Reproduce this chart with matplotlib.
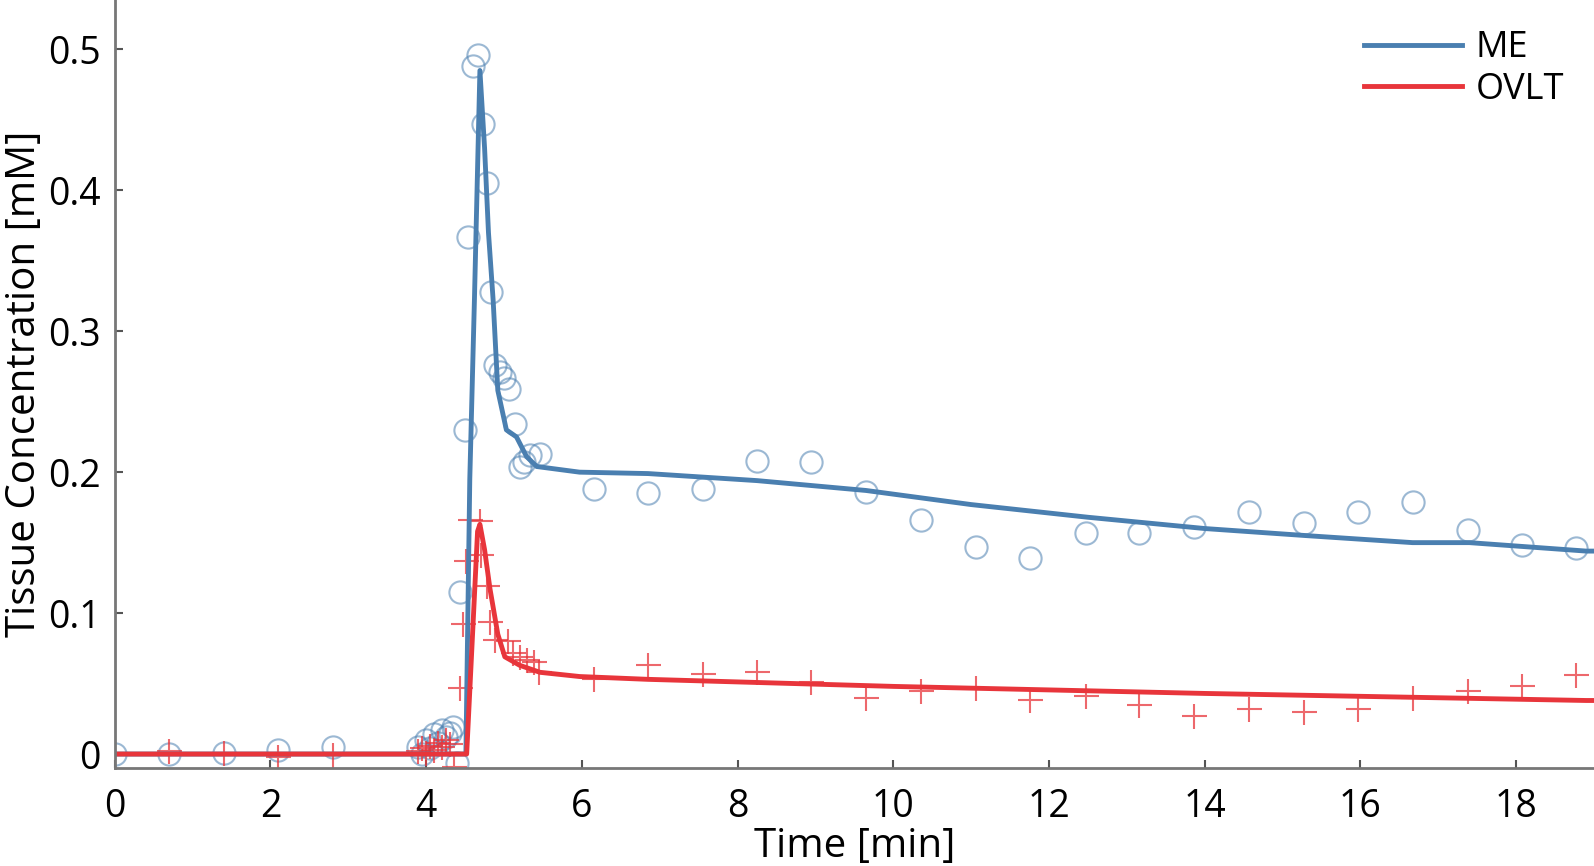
import matplotlib
matplotlib.use("Agg")
import matplotlib.pyplot as plt
import numpy as np

plt.rcParams['font.family'] = ['Open Sans', 'DejaVu Sans']

# ME measured data (circles)
me_t = [0, 0.7, 1.4, 2.1, 2.8, 3.9, 3.95, 4.0, 4.05, 4.1, 4.15, 4.2, 4.25, 4.3, 4.35, 4.4,
        4.44, 4.5, 4.54, 4.6, 4.66, 4.73, 4.78, 4.83, 4.88, 4.95, 5.0, 5.07, 5.14, 5.2,
        5.26, 5.33, 5.46, 6.15, 6.85, 7.55, 8.25, 8.94, 9.65, 10.35, 11.06, 11.76, 12.47,
        13.16, 13.86, 14.57, 15.27, 15.97, 16.67, 17.38, 18.07, 18.77]
me_c = [0, 0, 0.001, 0.003, 0.005, 0.005, 0.0, 0.01, 0.004, 0.014, 0.008, 0.017, 0.012, 0.015, 0.019, -0.006,
        0.115, 0.23, 0.367, 0.488, 0.496, 0.447, 0.405, 0.328, 0.276, 0.271, 0.267, 0.259, 0.234, 0.204,
        0.207, 0.212, 0.213, 0.188, 0.185, 0.188, 0.208, 0.207, 0.186, 0.166, 0.147, 0.139, 0.157,
        0.157, 0.161, 0.172, 0.164, 0.172, 0.179, 0.159, 0.148, 0.146]

# OVLT measured data (crosses)
ov_t = [0, 0.7, 1.4, 2.1, 2.8, 3.9, 3.95, 4.0, 4.05, 4.1, 4.15, 4.2, 4.25, 4.3, 4.36,
        4.43, 4.47, 4.51, 4.56, 4.69, 4.71, 4.78, 4.82, 4.88, 5.05, 5.12, 5.2, 5.29, 5.38, 5.45,
        6.15, 6.85, 7.55, 8.25, 8.94, 9.65, 10.35, 11.06, 11.76, 12.47, 13.16, 13.86, 14.57,
        15.27, 15.97, 16.67, 17.38, 18.07, 18.77]
ov_c = [0, 0.002, 0.001, -0.002, -0.001, 0.002, 0.004, 0.001, 0.006, 0.003, 0.008, 0.005, 0.01, 0.007, -0.009,
        0.047, 0.092, 0.137, 0.166, 0.165, 0.141, 0.119, 0.094, 0.081, 0.080, 0.072, 0.069, 0.067, 0.065, 0.058,
        0.053, 0.063, 0.057, 0.058, 0.051, 0.040, 0.045, 0.047, 0.038, 0.041, 0.035, 0.027, 0.032,
        0.030, 0.032, 0.040, 0.045, 0.048, 0.056]

# Fitted model curves
me_fit_t = [0, 4.51, 4.56, 4.62, 4.69, 4.75, 4.80, 4.86, 4.92, 5.03, 5.16, 5.29, 5.42, 5.97,
            6.85, 8.25, 9.65, 11.0, 12.5, 14.0, 15.3, 16.67, 17.4, 18.9, 19.0]
me_fit_c = [0, 0, 0.195, 0.323, 0.485, 0.43, 0.37, 0.322, 0.258, 0.230, 0.225, 0.211, 0.204, 0.200,
            0.199, 0.194, 0.187, 0.177, 0.168, 0.160, 0.155, 0.150, 0.150, 0.144, 0.144]
ov_fit_t = [0, 4.52, 4.60, 4.66, 4.69, 4.75, 4.82, 4.92, 5.01, 5.2, 5.46, 5.97,
            6.85, 10.0, 14.0, 18.9, 19.0]
ov_fit_c = [0, 0, 0.09, 0.158, 0.163, 0.145, 0.117, 0.085, 0.069, 0.063, 0.058, 0.055,
            0.053, 0.048, 0.043, 0.038, 0.038]

xticks = [0, 2, 4, 6, 8, 10, 12, 14, 16, 18]
yticks = [0, 0.1, 0.2, 0.3, 0.4, 0.5]
ytick_labels = ["0", "0.1", "0.2", "0.3", "0.4", "0.5"]

blue = "#4a7fb0"
red = "#e8353b"

fig = plt.figure(figsize=(15.94, 8.66), dpi=100)
ax = fig.add_axes([0.072, 0.113, 0.928, 0.887])

ax.plot(me_t, me_c, linestyle="none", marker="o", markersize=16, markerfacecolor="none",
        markeredgecolor=blue, markeredgewidth=1.5, alpha=0.55)
ax.plot(ov_t, ov_c, linestyle="none", marker="+", markersize=18, color=red,
        markeredgewidth=1.5, alpha=0.75)
ax.plot(me_fit_t, me_fit_c, color=blue, linewidth=3.5, label="ME")
ax.plot(ov_fit_t, ov_fit_c, color=red, linewidth=3.5, label="OVLT")

ax.set_xlim(0, 19)
ax.set_ylim(-0.010, 0.535)
ax.set_xticks(xticks)
ax.set_yticks(yticks)
ax.set_yticklabels(ytick_labels)
ax.tick_params(direction="in", length=6, width=1.5, color="#555555", labelsize=27)
ax.tick_params(axis="x", pad=14)
ax.tick_params(axis="y", pad=10)
for s in ["top", "right"]:
    ax.spines[s].set_visible(False)
for s in ["left", "bottom"]:
    ax.spines[s].set_color("#777777")
    ax.spines[s].set_linewidth(2)

ax.set_xlabel("Time [min]", fontsize=29, labelpad=1)
ax.set_ylabel("Tissue Concentration [mM]", fontsize=29, labelpad=2)

leg = ax.legend(loc="upper right", frameon=False, fontsize=26, handlelength=2.7,
                handletextpad=0.4, labelspacing=0.15, bbox_to_anchor=(1.002, 1.003))

fig.savefig("out.png", dpi=100)
